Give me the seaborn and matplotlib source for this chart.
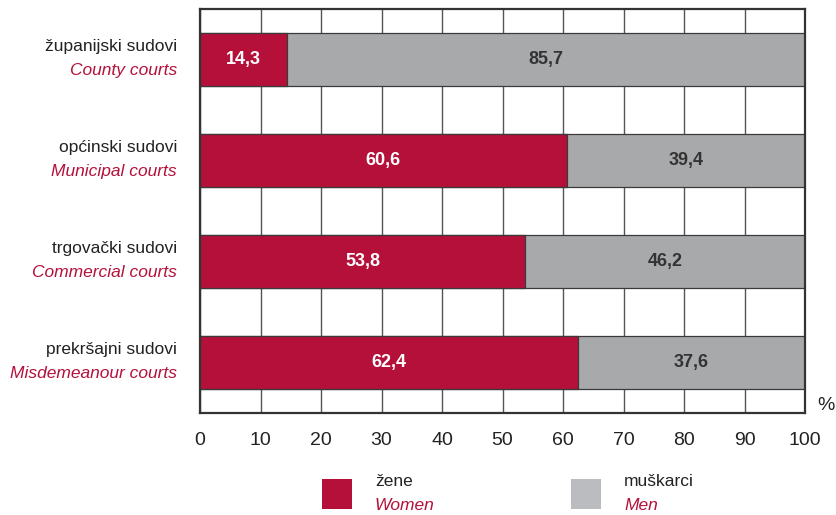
import matplotlib
matplotlib.use("Agg")
import matplotlib.pyplot as plt
import pandas as pd
import seaborn as sns
from matplotlib.patches import Rectangle

# data
courts_hr = ["županijski sudovi", "općinski sudovi", "trgovački sudovi", "prekršajni sudovi"]
courts_en = ["County courts", "Municipal courts", "Commercial courts", "Misdemeanour courts"]
women = [14.3, 60.6, 53.8, 62.4]
men = [85.7, 39.4, 46.2, 37.6]
ticks = [0, 10, 20, 30, 40, 50, 60, 70, 80, 90, 100]

RED = "#B5103A"
GREY = "#A8A9AB"
GREY_LEG = "#BBBCBF"
EDGE = "#3a3a3a"

df = pd.DataFrame({"court": courts_en, "women": women, "men": men})
df["total"] = df["women"] + df["men"]

sns.set_style("white")
plt.rcParams["font.family"] = ["Liberation Sans", "DejaVu Sans"]

fig = plt.figure(figsize=(8.36, 5.15), dpi=100)
ax = fig.add_axes([200 / 836, 1 - 413 / 515, 605 / 836, 404 / 515])

# stacked: grey full bar first, red women part on top
sns.barplot(data=df, y="court", x="total", color=GREY, orient="h", width=0.515,
            edgecolor=EDGE, linewidth=0.9, saturation=1, ax=ax)
sns.barplot(data=df, y="court", x="women", color=RED, orient="h", width=0.515,
            edgecolor=EDGE, linewidth=0.9, saturation=1, ax=ax)

ax.set_xlim(0, 100)
ax.set_ylim(3.5, -0.5)
ax.set_xticks(ticks)
ax.xaxis.grid(True, color="#555555", linewidth=1.0)
ax.yaxis.grid(False)
ax.set_axisbelow(True)
for s in ax.spines.values():
    s.set_color("#333333")
    s.set_linewidth(1.6)
ax.set_xlabel("")
ax.set_ylabel("")
ax.set_yticklabels([])
ax.tick_params(axis="y", length=0)
ax.tick_params(axis="x", length=0, pad=14)
ax.set_xticklabels([str(t) for t in ticks], fontsize=14, color="#222222")

# value labels
for i in range(len(women)):
    ax.text(women[i] / 2, i, f"{women[i]:.1f}".replace(".", ","), ha="center", va="center",
            color="white", fontsize=13, fontweight="bold")
    ax.text(women[i] + men[i] / 2, i, f"{men[i]:.1f}".replace(".", ","), ha="center",
            va="center", color="#333333", fontsize=13, fontweight="bold")

# category labels (croatian + english)
for i in range(len(courts_hr)):
    ax.annotate(courts_hr[i], xy=(0, i), xycoords=("axes fraction", "data"),
                xytext=(-16.5, 9.5), textcoords="offset points", ha="right", va="center",
                fontsize=12.5, color="#222222")
    ax.annotate(courts_en[i], xy=(0, i), xycoords=("axes fraction", "data"),
                xytext=(-16.5, -8), textcoords="offset points", ha="right", va="center",
                fontsize=12.5, color=RED, style="italic")

fig.text(826 / 836, 1 - 405 / 515, "%", ha="center", va="center", fontsize=14,
         color="#222222")

# legend
for x0, col, lab_hr, lab_en in [(322, RED, "žene", "Women"), (571, GREY_LEG, "muškarci", "Men")]:
    fig.patches.append(Rectangle((x0 / 836, 1 - 509 / 515), 30 / 836, 30 / 515,
                                 transform=fig.transFigure, facecolor=col, edgecolor="none"))
    fig.text((x0 + 53) / 836, 1 - 481 / 515, lab_hr, ha="left", va="center",
             fontsize=12.5, color="#222222")
    fig.text((x0 + 53) / 836, 1 - 505 / 515, lab_en, ha="left", va="center",
             fontsize=12.5, color=RED, style="italic")

fig.savefig("out.png", dpi=100)
